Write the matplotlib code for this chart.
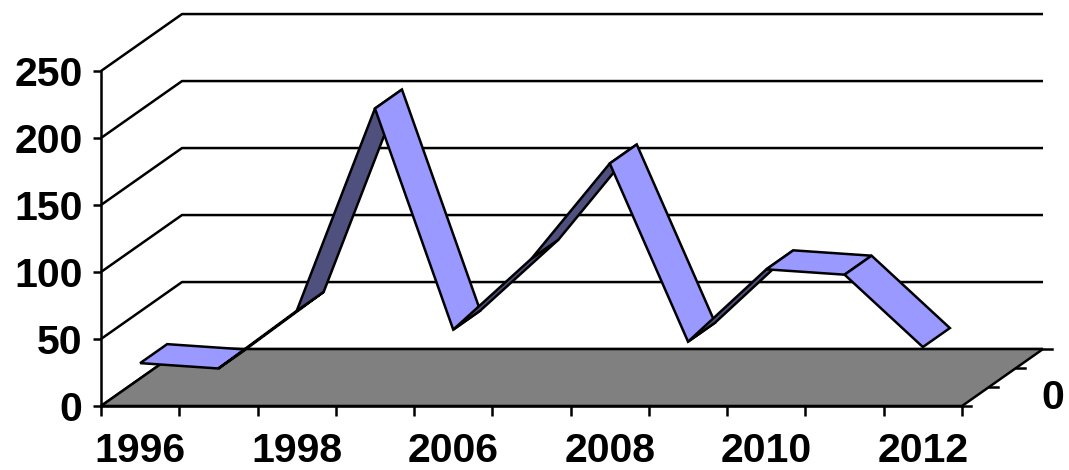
import numpy as np
import matplotlib
matplotlib.use("Agg")
import matplotlib.pyplot as plt
from matplotlib.patches import Polygon

# Data
years = ["1996", "1997", "1998", "2005", "2006", "2007",
         "2008", "2009", "2010", "2011", "2012"]
values = [32, 28, 71, 222, 57, 110, 181, 48, 102, 98, 44]
y_ticks = [0, 50, 100, 150, 200, 250]
series_name = "0"

FONT = ["Liberation Sans", "DejaVu Sans"]
FS = 29.5
LIGHT = "#9999FF"
DARK = "#50507F"
FLOOR = "#808080"
LW = 1.8

W, H = 1069, 470
fig = plt.figure(figsize=(W / 100, H / 100), dpi=100)
ax = fig.add_axes([101 / W, 64 / H, 861 / W, 335 / H])
n = len(years)
ax.set_xlim(0, n)
ax.set_ylim(0, 250)
ax.patch.set_visible(False)

# oblique depth vector for the full floor depth (data units)
DX, DY = 1.035, 42.5
RIBBON_DEPTH = 1 / 3


def proj(x, y, d):
    return (x + DX * d, y + DY * d)


# back wall / side wall gridlines
for v in y_ticks:
    p0 = (0, v)
    p1 = proj(0, v, 1)
    p2 = proj(n, v, 1)
    ax.plot([p0[0], p1[0], p2[0]], [p0[1], p1[1], p2[1]], color="black",
            lw=LW, clip_on=False, zorder=1, solid_capstyle="butt")

# floor
floor = Polygon([(0, 0), (n, 0), proj(n, 0, 1), proj(0, 0, 1)], closed=True,
                facecolor=FLOOR, edgecolor="black", lw=LW, clip_on=False,
                zorder=2)
ax.add_patch(floor)

# depth axis ticks on the right edge of the floor
tick_len = 9 / 78.27
for d in [0, 1 / 3, 2 / 3, 1]:
    px, py = proj(n, 0, d)
    ax.plot([px, px + tick_len], [py, py], color="black", lw=LW,
            clip_on=False, zorder=3)
mx, my = proj(n, 0, 0.5)
ax.annotate(series_name, (mx, my), xytext=(36, -14.5), textcoords="offset points",
            ha="center", va="center", fontsize=FS, fontweight="bold",
            family=FONT, annotation_clip=False)

# ribbon
centers = np.arange(n) + 0.5
for i in range(n - 1):
    a = (centers[i], values[i])
    b = (centers[i + 1], values[i + 1])
    pts = [a, b, proj(*b, RIBBON_DEPTH), proj(*a, RIBBON_DEPTH)]
    disp = ax.transData.transform(pts)
    L = disp[1] - disp[0]
    o = disp[3] - disp[0]
    cross = L[0] * o[1] - L[1] * o[0]
    color = DARK if cross < 0 else LIGHT
    ax.add_patch(Polygon(pts, closed=True, facecolor=color, edgecolor="black",
                         lw=LW, joinstyle="miter", clip_on=False,
                         zorder=4 + i * 0.01))

# axes
for s in ["top", "right"]:
    ax.spines[s].set_visible(False)
for s in ["left", "bottom"]:
    ax.spines[s].set_linewidth(LW)
    ax.spines[s].set_zorder(5)

ax.set_yticks(y_ticks)
ax.set_yticklabels([str(v) for v in y_ticks])
ax.tick_params(axis="y", direction="out", length=5.8, width=LW, pad=7.5)

ax.set_xticks(np.arange(n + 1))
ax.set_xticklabels([])
ax.set_xticks(centers[::2], minor=True)
ax.set_xticklabels(years[::2], minor=True)
ax.tick_params(axis="x", which="major", direction="out", length=7.2, width=LW)
ax.tick_params(axis="x", which="minor", length=0, pad=19)

for lab in ax.get_yticklabels() + ax.get_xticklabels(minor=True):
    lab.set_fontsize(FS)
    lab.set_fontweight("bold")
    lab.set_family(FONT)

fig.savefig("out.png", dpi=100)
